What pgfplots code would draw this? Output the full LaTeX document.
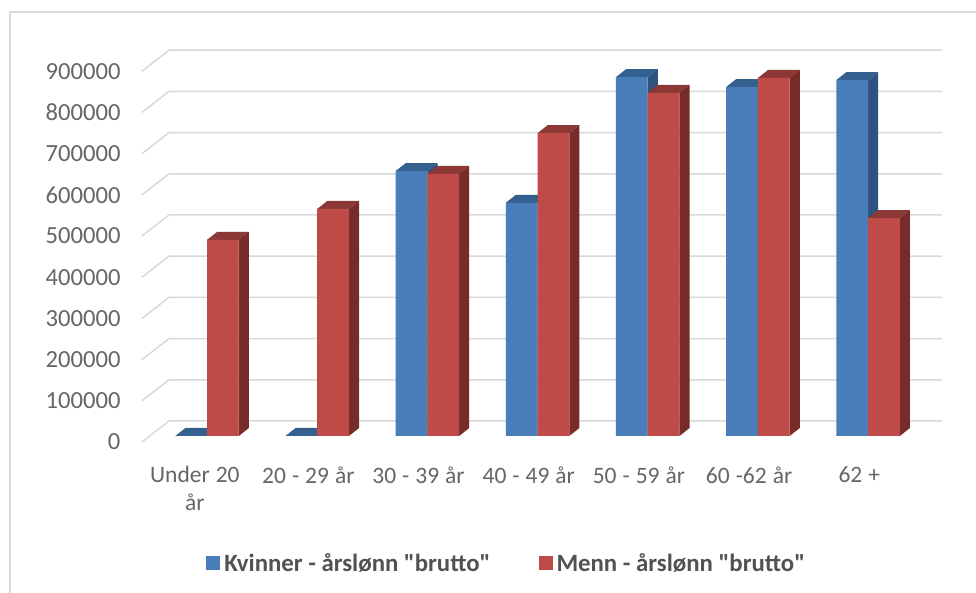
\documentclass[border=0pt]{standalone}
\usepackage{fontspec}
\usepackage{pgfplots}
\usepackage{pgfplotstable}
\pgfplotsset{compat=1.18}
\setmainfont{Carlito}
% no tex-text mapping here, so that " stays a straight quote
\newfontfamily\lgd{Carlito}

\definecolor{blaF}{HTML}{4A7EBB}
\definecolor{blaS}{HTML}{2F5380}
\definecolor{blaT}{HTML}{34608F}
\definecolor{rodF}{HTML}{BE4B48}
\definecolor{rodS}{HTML}{772C2A}
\definecolor{rodT}{HTML}{8C3836}
\definecolor{gridc}{HTML}{D9D9D9}
\definecolor{txt}{HTML}{666666}

% values in kroner, read at the front edge of each bar
\pgfplotstableread{
x kvinner menn
0 0      476000
1 0      551000
2 643000 636000
3 566000 735000
4 871000 833000
5 847000 869000
6 864000 529000
}\lonn

% back wall and the slanted stubs
\pgfplotstableread{
x y
-0.59 -14563
-0.345 36408
6.671 36408
nan nan
-0.59 85437
-0.345 136408
6.671 136408
nan nan
-0.59 185437
-0.345 236408
6.671 236408
nan nan
-0.59 285437
-0.345 336408
6.671 336408
nan nan
-0.59 385437
-0.345 436408
6.671 436408
nan nan
-0.59 485437
-0.345 536408
6.671 536408
nan nan
-0.59 585437
-0.345 636408
6.671 636408
nan nan
-0.59 685437
-0.345 736408
6.671 736408
nan nan
-0.59 785437
-0.345 836408
6.671 836408
nan nan
-0.59 885437
-0.345 936408
6.671 936408
}\vegg

\newcommand{\bw}{0.288}
\newcommand{\dx}{0.092}
\newcommand{\dy}{19417}
\newcommand{\ms}{\hspace{6pt}}

% top and side of one bar: left x, value, top colour, side colour
\newcommand{\dybde}[4]{%
  \edef\xa{\fpeval{#1}}\edef\xb{\fpeval{#1+\bw}}%
  \edef\xc{\fpeval{#1+\bw+\dx}}\edef\xd{\fpeval{#1+\dx}}%
  \edef\ya{\fpeval{#2}}\edef\yb{\fpeval{#2+\dy}}%
  \edef\tmp{\noexpand\addplot[forget plot,draw=none,fill=#3] coordinates
    {(\xa,\ya) (\xb,\ya) (\xc,\yb) (\xd,\yb)};}\tmp
  \edef\tmp{\noexpand\addplot[forget plot,draw=none,fill=#4] coordinates
    {(\xb,\ya) (\xc,\yb) (\xc,\dy) (\xb,0)};}\tmp
}

\begin{document}
\begin{tikzpicture}[x=1pt,y=1pt]
\path[use as bounding box] (0,0) rectangle (976,593);
\fill[white] (0,0) rectangle (976,593);
\draw[gridc,line width=2pt] (10,0) -- (10,581) -- (976,581);
\begin{axis}[
  at={(142pt,151pt)},anchor=south west,
  scale only axis,width=800pt,height=392pt,
  xmin=-0.59,xmax=6.671,ymin=-14563,ymax=936893,
  clip=false,unbounded coords=jump,
  axis line style={draw=none},tick style={draw=none},
  scaled ticks=false,
  xtick={-0.11,0.92,1.92,2.92,3.92,4.92,5.92},
  xticklabels={{Under\ms 20\\år},{20\ms-\ms29\ms år},{30\ms-\ms39\ms år},{40\ms-\ms49\ms år},{50\ms-\ms59\ms år},{60\ms-62\ms år},{62\ms+}},
  ytick={-14563,85437,185437,285437,385437,485437,585437,685437,785437,885437},
  yticklabels={0,100000,200000,300000,400000,500000,600000,700000,800000,900000},
  yticklabel style={text=txt,font=\fontsize{24.6}{28}\selectfont,anchor=east,xshift=-18pt},
  xticklabel style={text=txt,font=\fontsize{23.5}{28}\selectfont,align=center,text width=116pt,anchor=north,yshift=-21pt},
  legend style={at={(0.456,-0.309)},anchor=center,draw=none,fill=none,
    legend columns=2,font=\lgd\fontsize{24.8}{28}\selectfont\bfseries,text=txt!80!black,
    /tikz/every even column/.append style={column sep=46pt}},
  legend image code/.code={\path (0pt,0pt) -- (16pt,0pt);\fill[#1] (0pt,-7pt) rectangle (14pt,7pt);},
]
\addplot[forget plot,gridc,line width=1.5pt] table[x=x,y=y] {\vegg};

\pgfplotsinvokeforeach{0,...,6}{
  \pgfplotstablegetelem{#1}{kvinner}\of\lonn
  \let\verdi\pgfplotsretval
  \dybde{#1-\bw}{\verdi}{blaT}{blaS}
}
\addplot[ybar,bar width=0.288,bar shift=-0.144,draw=none,fill=blaF] table[x=x,y=kvinner] {\lonn};

\pgfplotsinvokeforeach{0,...,6}{
  \pgfplotstablegetelem{#1}{menn}\of\lonn
  \let\verdi\pgfplotsretval
  \dybde{#1}{\verdi}{rodT}{rodS}
}
\addplot[ybar,bar width=0.288,bar shift=0.144,draw=none,fill=rodF] table[x=x,y=menn] {\lonn};

\legend{Kvinner - årslønn "brutto",Menn - årslønn "brutto"}
\end{axis}
\end{tikzpicture}
\end{document}
